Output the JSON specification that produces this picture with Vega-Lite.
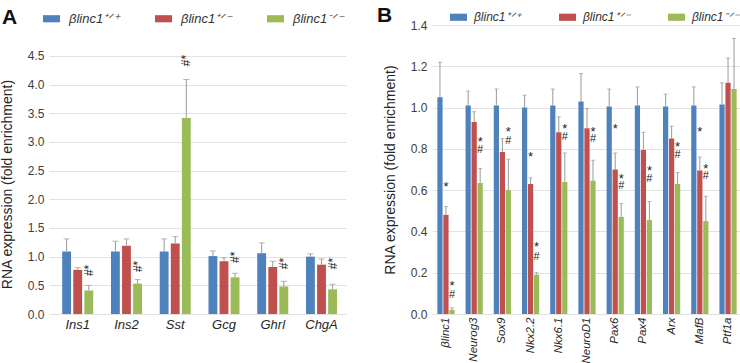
{
  "$schema": "https://vega.github.io/schema/vega-lite/v6.json",
  "padding": {"left": 0, "top": 8, "right": 2, "bottom": 0},
  "background": "white",
  "config": {
    "view": {"stroke": null},
    "font": "Liberation Sans",
    "axis": {"labelFont": "Liberation Sans", "titleFont": "Liberation Sans", "domain": false, "ticks": false, "gridColor": "#e2e2e2", "labelColor": "#404040", "titleColor": "#262626", "titleFontWeight": "normal"},
    "axisY": {"labelOverlap": false, "labelBound": false},
    "legend": {"labelFont": "Liberation Sans", "titleFont": "Liberation Sans"}
  },
  "datasets": {
    "barsA": [
      {"gene": "Ins1", "genotype": "βlinc1⁺ᐟ⁺", "value": 1.09, "err": 1.31},
      {"gene": "Ins1", "genotype": "βlinc1⁺ᐟ⁻", "value": 0.77, "err": 0.81},
      {"gene": "Ins1", "genotype": "βlinc1⁻ᐟ⁻", "value": 0.41, "err": 0.50},
      {"gene": "Ins2", "genotype": "βlinc1⁺ᐟ⁺", "value": 1.09, "err": 1.27},
      {"gene": "Ins2", "genotype": "βlinc1⁺ᐟ⁻", "value": 1.19, "err": 1.31},
      {"gene": "Ins2", "genotype": "βlinc1⁻ᐟ⁻", "value": 0.53, "err": 0.60},
      {"gene": "Sst", "genotype": "βlinc1⁺ᐟ⁺", "value": 1.09, "err": 1.31},
      {"gene": "Sst", "genotype": "βlinc1⁺ᐟ⁻", "value": 1.23, "err": 1.35},
      {"gene": "Sst", "genotype": "βlinc1⁻ᐟ⁻", "value": 3.42, "err": 4.09},
      {"gene": "Gcg", "genotype": "βlinc1⁺ᐟ⁺", "value": 1.01, "err": 1.10},
      {"gene": "Gcg", "genotype": "βlinc1⁺ᐟ⁻", "value": 0.92, "err": 0.98},
      {"gene": "Gcg", "genotype": "βlinc1⁻ᐟ⁻", "value": 0.64, "err": 0.71},
      {"gene": "Ghrl", "genotype": "βlinc1⁺ᐟ⁺", "value": 1.06, "err": 1.24},
      {"gene": "Ghrl", "genotype": "βlinc1⁺ᐟ⁻", "value": 0.82, "err": 0.92},
      {"gene": "Ghrl", "genotype": "βlinc1⁻ᐟ⁻", "value": 0.48, "err": 0.57},
      {"gene": "ChgA", "genotype": "βlinc1⁺ᐟ⁺", "value": 1.00, "err": 1.05},
      {"gene": "ChgA", "genotype": "βlinc1⁺ᐟ⁻", "value": 0.86, "err": 0.96},
      {"gene": "ChgA", "genotype": "βlinc1⁻ᐟ⁻", "value": 0.43, "err": 0.52}
    ],
    "annA": [
      {"gene": "Ins1", "genotype": "βlinc1⁻ᐟ⁻", "y": 0.76, "label": "#*"},
      {"gene": "Ins2", "genotype": "βlinc1⁻ᐟ⁻", "y": 0.83, "label": "#*"},
      {"gene": "Sst", "genotype": "βlinc1⁻ᐟ⁻", "y": 4.42, "label": "#*"},
      {"gene": "Gcg", "genotype": "βlinc1⁻ᐟ⁻", "y": 0.99, "label": "#*"},
      {"gene": "Ghrl", "genotype": "βlinc1⁻ᐟ⁻", "y": 0.88, "label": "#*"},
      {"gene": "ChgA", "genotype": "βlinc1⁻ᐟ⁻", "y": 0.88, "label": "#*"}
    ],
    "barsB": [
      {"gene": "βlinc1", "genotype": "βlinc1⁺ᐟ⁺", "value": 1.05, "err": 1.22},
      {"gene": "βlinc1", "genotype": "βlinc1⁺ᐟ⁻", "value": 0.48, "err": 0.52},
      {"gene": "βlinc1", "genotype": "βlinc1⁻ᐟ⁻", "value": 0.02, "err": 0.03},
      {"gene": "Neurog3", "genotype": "βlinc1⁺ᐟ⁺", "value": 1.01, "err": 1.08},
      {"gene": "Neurog3", "genotype": "βlinc1⁺ᐟ⁻", "value": 0.93, "err": 0.98},
      {"gene": "Neurog3", "genotype": "βlinc1⁻ᐟ⁻", "value": 0.635, "err": 0.705},
      {"gene": "Sox9", "genotype": "βlinc1⁺ᐟ⁺", "value": 1.01, "err": 1.09},
      {"gene": "Sox9", "genotype": "βlinc1⁺ᐟ⁻", "value": 0.785, "err": 0.85},
      {"gene": "Sox9", "genotype": "βlinc1⁻ᐟ⁻", "value": 0.60, "err": 0.75},
      {"gene": "Nkx2.2", "genotype": "βlinc1⁺ᐟ⁺", "value": 1.00, "err": 1.06},
      {"gene": "Nkx2.2", "genotype": "βlinc1⁺ᐟ⁻", "value": 0.63, "err": 0.66},
      {"gene": "Nkx2.2", "genotype": "βlinc1⁻ᐟ⁻", "value": 0.19, "err": 0.20},
      {"gene": "Nkx6.1", "genotype": "βlinc1⁺ᐟ⁺", "value": 1.01, "err": 1.09},
      {"gene": "Nkx6.1", "genotype": "βlinc1⁺ᐟ⁻", "value": 0.88, "err": 0.955},
      {"gene": "Nkx6.1", "genotype": "βlinc1⁻ᐟ⁻", "value": 0.64, "err": 0.78},
      {"gene": "NeuroD1", "genotype": "βlinc1⁺ᐟ⁺", "value": 1.03, "err": 1.165},
      {"gene": "NeuroD1", "genotype": "βlinc1⁺ᐟ⁻", "value": 0.90, "err": 0.995},
      {"gene": "NeuroD1", "genotype": "βlinc1⁻ᐟ⁻", "value": 0.645, "err": 0.745},
      {"gene": "Pax6", "genotype": "βlinc1⁺ᐟ⁺", "value": 1.005, "err": 1.09},
      {"gene": "Pax6", "genotype": "βlinc1⁺ᐟ⁻", "value": 0.70, "err": 0.78},
      {"gene": "Pax6", "genotype": "βlinc1⁻ᐟ⁻", "value": 0.47, "err": 0.535},
      {"gene": "Pax4", "genotype": "βlinc1⁺ᐟ⁺", "value": 1.01, "err": 1.10},
      {"gene": "Pax4", "genotype": "βlinc1⁺ᐟ⁻", "value": 0.795, "err": 0.88},
      {"gene": "Pax4", "genotype": "βlinc1⁻ᐟ⁻", "value": 0.455, "err": 0.545},
      {"gene": "Arx", "genotype": "βlinc1⁺ᐟ⁺", "value": 1.005, "err": 1.065},
      {"gene": "Arx", "genotype": "βlinc1⁺ᐟ⁻", "value": 0.85, "err": 0.91},
      {"gene": "Arx", "genotype": "βlinc1⁻ᐟ⁻", "value": 0.63, "err": 0.685},
      {"gene": "MafB", "genotype": "βlinc1⁺ᐟ⁺", "value": 1.01, "err": 1.10},
      {"gene": "MafB", "genotype": "βlinc1⁺ᐟ⁻", "value": 0.695, "err": 0.76},
      {"gene": "MafB", "genotype": "βlinc1⁻ᐟ⁻", "value": 0.45, "err": 0.57},
      {"gene": "Ptf1a", "genotype": "βlinc1⁺ᐟ⁺", "value": 1.015, "err": 1.12},
      {"gene": "Ptf1a", "genotype": "βlinc1⁺ᐟ⁻", "value": 1.12, "err": 1.24},
      {"gene": "Ptf1a", "genotype": "βlinc1⁻ᐟ⁻", "value": 1.09, "err": 1.335}
    ],
    "annB": [
      {"gene": "βlinc1", "genotype": "βlinc1⁺ᐟ⁻", "y": 0.63, "label": "*"},
      {"gene": "βlinc1", "genotype": "βlinc1⁻ᐟ⁻", "y": 0.148, "label": "*"},
      {"gene": "βlinc1", "genotype": "βlinc1⁻ᐟ⁻", "y": 0.092, "label": "#"},
      {"gene": "Neurog3", "genotype": "βlinc1⁻ᐟ⁻", "y": 0.847, "label": "*"},
      {"gene": "Neurog3", "genotype": "βlinc1⁻ᐟ⁻", "y": 0.794, "label": "#"},
      {"gene": "Sox9", "genotype": "βlinc1⁻ᐟ⁻", "y": 0.894, "label": "*"},
      {"gene": "Sox9", "genotype": "βlinc1⁻ᐟ⁻", "y": 0.837, "label": "#"},
      {"gene": "Nkx2.2", "genotype": "βlinc1⁺ᐟ⁻", "y": 0.777, "label": "*"},
      {"gene": "Nkx2.2", "genotype": "βlinc1⁻ᐟ⁻", "y": 0.337, "label": "*"},
      {"gene": "Nkx2.2", "genotype": "βlinc1⁻ᐟ⁻", "y": 0.277, "label": "#"},
      {"gene": "Nkx6.1", "genotype": "βlinc1⁻ᐟ⁻", "y": 0.91, "label": "*"},
      {"gene": "Nkx6.1", "genotype": "βlinc1⁻ᐟ⁻", "y": 0.858, "label": "#"},
      {"gene": "NeuroD1", "genotype": "βlinc1⁻ᐟ⁻", "y": 0.898, "label": "*"},
      {"gene": "NeuroD1", "genotype": "βlinc1⁻ᐟ⁻", "y": 0.85, "label": "#"},
      {"gene": "Pax6", "genotype": "βlinc1⁺ᐟ⁻", "y": 0.91, "label": "*"},
      {"gene": "Pax6", "genotype": "βlinc1⁻ᐟ⁻", "y": 0.668, "label": "*"},
      {"gene": "Pax6", "genotype": "βlinc1⁻ᐟ⁻", "y": 0.619, "label": "#"},
      {"gene": "Pax4", "genotype": "βlinc1⁻ᐟ⁻", "y": 0.705, "label": "*"},
      {"gene": "Pax4", "genotype": "βlinc1⁻ᐟ⁻", "y": 0.652, "label": "#"},
      {"gene": "Arx", "genotype": "βlinc1⁻ᐟ⁻", "y": 0.823, "label": "*"},
      {"gene": "Arx", "genotype": "βlinc1⁻ᐟ⁻", "y": 0.769, "label": "#"},
      {"gene": "MafB", "genotype": "βlinc1⁺ᐟ⁻", "y": 0.894, "label": "*"},
      {"gene": "MafB", "genotype": "βlinc1⁻ᐟ⁻", "y": 0.719, "label": "*"},
      {"gene": "MafB", "genotype": "βlinc1⁻ᐟ⁻", "y": 0.668, "label": "#"}
    ]
  },
  "spacing": 31,
  "resolve": {"scale": {"color": "independent", "x": "independent", "xOffset": "independent", "y": "independent"}, "legend": {"color": "independent"}},
  "hconcat": [
    {
      "width": 297,
      "height": 289,
      "encoding": {
        "x": {"field": "gene", "type": "nominal", "sort": ["Ins1", "Ins2", "Sst", "Gcg", "Ghrl", "ChgA"],
          "scale": {"paddingInner": 0.364, "paddingOuter": 0.2275, "align": 0.595},
          "axis": {"title": null, "labelAngle": 0, "labelFontStyle": "italic", "labelFontSize": 13, "labelPadding": 4, "labelColor": "#262626", "grid": false}},
        "xOffset": {"field": "genotype", "type": "nominal", "sort": ["βlinc1⁺ᐟ⁺", "βlinc1⁺ᐟ⁻", "βlinc1⁻ᐟ⁻"], "scale": {"paddingInner": 0.2, "paddingOuter": 0}}
      },
      "layer": [
        {
          "data": {"name": "barsA"},
          "mark": {"type": "bar"},
          "encoding": {
            "y": {"field": "value", "type": "quantitative", "title": "RNA expression (fold enrichment)",
              "scale": {"domain": [0, 5.04], "nice": false},
              "axis": {"values": [0, 0.5, 1, 1.5, 2, 2.5, 3, 3.5, 4, 4.5], "tickCount": 10, "format": ".1f", "labelOverlap": false, "labelFontSize": 12, "labelPadding": 5, "titleFontSize": 14, "titlePadding": 13, "titleY": 159, "grid": true}},
            "color": {"field": "genotype", "type": "nominal",
              "scale": {"domain": ["βlinc1⁺ᐟ⁺", "βlinc1⁺ᐟ⁻", "βlinc1⁻ᐟ⁻"], "range": ["#4F81BD", "#C0504D", "#9BBB59"]},
              "legend": {"orient": "none", "legendX": -47, "legendY": -15, "direction": "horizontal", "title": "A", "titleOrient": "left", "titleFontSize": 21, "titleFontWeight": "bold", "titleColor": "#111111", "titlePadding": 25, "symbolType": "M-1,-0.42H1V0.42H-1Z", "symbolSize": 289, "symbolStrokeWidth": 0, "labelFontSize": 13, "labelFontStyle": "italic", "labelColor": "#333333", "labelOffset": 9, "columnPadding": 34, "labelLimit": 0}}
          }
        },
        {
          "data": {"name": "barsA"},
          "mark": {"type": "rule", "color": "#9a9a9a", "strokeWidth": 1},
          "encoding": {
            "y": {"field": "value", "type": "quantitative", "title": "RNA expression (fold enrichment)",
              "axis": {"values": [0, 0.5, 1, 1.5, 2, 2.5, 3, 3.5, 4, 4.5], "tickCount": 10, "format": ".1f", "labelOverlap": false, "labelFontSize": 12, "labelPadding": 5, "titleFontSize": 14, "titlePadding": 13, "titleY": 159, "grid": true}},
            "y2": {"field": "err"}
          }
        },
        {
          "data": {"name": "barsA"},
          "mark": {"type": "tick", "color": "#9a9a9a", "thickness": 1, "size": 6},
          "encoding": {
            "y": {"field": "err", "type": "quantitative", "title": "RNA expression (fold enrichment)",
              "axis": {"values": [0, 0.5, 1, 1.5, 2, 2.5, 3, 3.5, 4, 4.5], "tickCount": 10, "format": ".1f", "labelOverlap": false, "labelFontSize": 12, "labelPadding": 5, "titleFontSize": 14, "titlePadding": 13, "titleY": 159, "grid": true}}
          }
        },
        {
          "data": {"name": "annA"},
          "mark": {"type": "text", "angle": 270, "fontSize": 12, "color": "#222222", "baseline": "middle", "align": "center"},
          "encoding": {
            "y": {"field": "y", "type": "quantitative", "title": "RNA expression (fold enrichment)",
              "axis": {"values": [0, 0.5, 1, 1.5, 2, 2.5, 3, 3.5, 4, 4.5], "tickCount": 10, "format": ".1f", "labelOverlap": false, "labelFontSize": 12, "labelPadding": 5, "titleFontSize": 14, "titlePadding": 13, "titleY": 159, "grid": true}},
            "text": {"field": "label"}
          }
        }
      ]
    },
    {
      "width": 310,
      "height": 289,
      "encoding": {
        "x": {"field": "gene", "type": "nominal", "sort": ["βlinc1", "Neurog3", "Sox9", "Nkx2.2", "Nkx6.1", "NeuroD1", "Pax6", "Pax4", "Arx", "MafB", "Ptf1a"],
          "scale": {"paddingInner": 0.39, "paddingOuter": 0.19},
          "axis": {"title": null, "labelAngle": -90, "labelFontStyle": "italic", "labelFontSize": 11.5, "labelPadding": 3, "labelColor": "#262626", "grid": false}},
        "xOffset": {"field": "genotype", "type": "nominal", "sort": ["βlinc1⁺ᐟ⁺", "βlinc1⁺ᐟ⁻", "βlinc1⁻ᐟ⁻"], "scale": {"paddingInner": 0.13, "paddingOuter": 0}}
      },
      "layer": [
        {
          "data": {"name": "barsB"},
          "mark": {"type": "bar"},
          "encoding": {
            "y": {"field": "value", "type": "quantitative", "title": "RNA expression (fold enrichment)",
              "scale": {"domain": [0, 1.4], "nice": false},
              "axis": {"values": [0, 0.2, 0.4, 0.6, 0.8, 1, 1.2, 1.4], "format": ".1f", "labelOverlap": false, "labelFontSize": 12, "labelPadding": 5, "titleFontSize": 14, "titlePadding": 13, "grid": true}},
            "color": {"field": "genotype", "type": "nominal",
              "scale": {"domain": ["βlinc1⁺ᐟ⁺", "βlinc1⁺ᐟ⁻", "βlinc1⁻ᐟ⁻"], "range": ["#4F81BD", "#C0504D", "#9BBB59"]},
              "legend": {"orient": "none", "legendX": -55, "legendY": -16.5, "direction": "horizontal", "title": "B", "titleOrient": "left", "titleFontSize": 21, "titleFontWeight": "bold", "titleColor": "#111111", "titlePadding": 57, "symbolType": "M-1,-0.42H1V0.42H-1Z", "symbolSize": 289, "symbolStrokeWidth": 0, "labelFontSize": 12, "labelFontStyle": "italic", "labelColor": "#333333", "labelOffset": 7, "columnPadding": 38, "labelLimit": 0}}
          }
        },
        {
          "data": {"name": "barsB"},
          "mark": {"type": "rule", "color": "#9a9a9a", "strokeWidth": 1},
          "encoding": {
            "y": {"field": "value", "type": "quantitative", "title": "RNA expression (fold enrichment)"},
            "y2": {"field": "err"}
          }
        },
        {
          "data": {"name": "barsB"},
          "mark": {"type": "tick", "color": "#9a9a9a", "thickness": 1, "size": 4},
          "encoding": {
            "y": {"field": "err", "type": "quantitative", "title": "RNA expression (fold enrichment)"}
          }
        },
        {
          "data": {"name": "annB"},
          "transform": [{"filter": "datum.label === '*'"}],
          "mark": {"type": "text", "fontSize": 13, "color": "#222222", "baseline": "middle", "align": "center", "dy": 3},
          "encoding": {
            "y": {"field": "y", "type": "quantitative", "title": "RNA expression (fold enrichment)"},
            "text": {"field": "label"}
          }
        },
        {
          "data": {"name": "annB"},
          "transform": [{"filter": "datum.label === '#'"}],
          "mark": {"type": "text", "fontSize": 11, "color": "#222222", "baseline": "middle", "align": "center"},
          "encoding": {
            "y": {"field": "y", "type": "quantitative", "title": "RNA expression (fold enrichment)"},
            "text": {"field": "label"}
          }
        }
      ]
    }
  ]
}
